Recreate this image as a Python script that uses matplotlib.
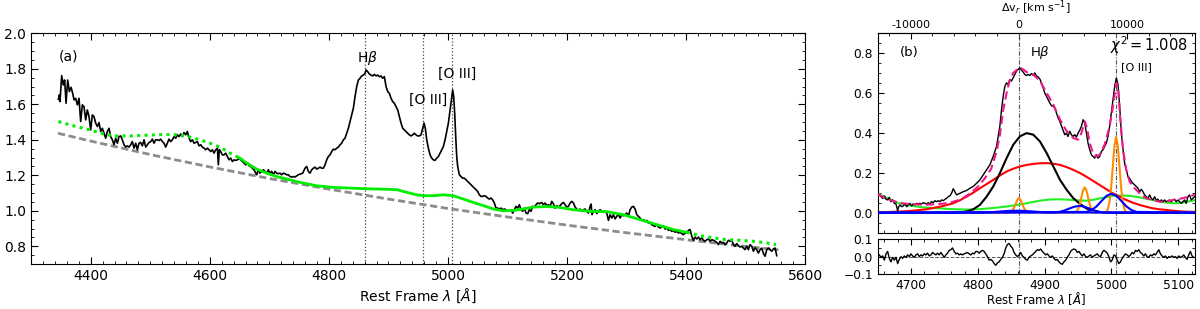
import numpy as np
import matplotlib
matplotlib.use("Agg")
import matplotlib.pyplot as plt
from matplotlib.ticker import AutoMinorLocator, MultipleLocator, FuncFormatter

# ---------------- Panel (a) data ----------------
spec_a_wave1 = [4345.6, 4347.3, 4348.4, 4351.2, 4354.0, 4356.2, 4358.5, 4361.3, 4364.1, 4366.9,
                4369.7, 4371.9, 4374.7, 4377.5, 4380.3, 4383.1, 4385.9, 4388.7, 4391.5, 4394.3,
                4397.1, 4399.9, 4402.7, 4405.5, 4408.3, 4411.1, 4413.9, 4416.7, 4419.5, 4422.3,
                4425.1, 4427.9, 4430.7, 4433.5, 4436.3, 4439.1, 4441.9, 4444.7, 4447.5, 4450.3,
                4453.1, 4455.9, 4458.7, 4461.5, 4464.3, 4467.1, 4469.9, 4472.7, 4475.5, 4478.3,
                4481.1, 4483.9, 4486.7, 4489.5, 4492.3, 4495.1, 4497.9, 4500.7, 4503.5, 4506.3,
                4509.1, 4511.9, 4514.7, 4517.5, 4520.3, 4523.1, 4525.9, 4528.7, 4531.5, 4534.3,
                4537.1, 4539.9, 4542.7, 4545.5, 4548.3, 4551.1, 4553.9, 4556.7, 4559.5, 4562.3,
                4565.1, 4567.9, 4570.7, 4573.5, 4576.3, 4579.1, 4581.9, 4584.7, 4587.5, 4590.3,
                4593.1, 4595.9, 4598.7, 4601.5, 4604.3, 4607.1, 4609.9, 4612.7, 4614.3, 4616.0,
                4618.3, 4621.1, 4623.9, 4626.7, 4629.5, 4632.3, 4635.1, 4637.9, 4640.7, 4643.5,
                4646.3, 4649.1, 4651.9, 4654.7, 4657.5, 4660.3, 4663.1, 4665.9, 4668.7, 4671.5,
                4674.3, 4677.1, 4678.7, 4681.5, 4684.3, 4687.1, 4689.9, 4692.7, 4695.5, 4698.3,
                4701.1, 4703.9, 4706.7, 4709.5, 4712.3, 4715.1, 4717.9, 4720.7, 4723.5, 4726.3,
                4729.1, 4731.9, 4734.7, 4737.5, 4740.3, 4743.1, 4745.9, 4748.7]
spec_a_flux1 = [1.628, 1.653, 1.615, 1.762, 1.709, 1.737, 1.606, 1.737, 1.672, 1.696,
                1.662, 1.625, 1.634, 1.597, 1.634, 1.503, 1.597, 1.587, 1.512, 1.568,
                1.531, 1.456, 1.540, 1.531, 1.494, 1.475, 1.497, 1.447, 1.465, 1.437,
                1.409, 1.447, 1.465, 1.418, 1.400, 1.372, 1.409, 1.381, 1.418, 1.422,
                1.400, 1.372, 1.359, 1.366, 1.359, 1.372, 1.390, 1.353, 1.381, 1.344,
                1.381, 1.385, 1.366, 1.400, 1.359, 1.372, 1.385, 1.390, 1.404, 1.381,
                1.400, 1.400, 1.396, 1.404, 1.390, 1.381, 1.359, 1.381, 1.404, 1.390,
                1.400, 1.418, 1.409, 1.428, 1.418, 1.433, 1.418, 1.441, 1.428, 1.447,
                1.409, 1.390, 1.400, 1.381, 1.385, 1.390, 1.366, 1.372, 1.359, 1.353,
                1.344, 1.353, 1.344, 1.334, 1.344, 1.325, 1.344, 1.353, 1.259, 1.344,
                1.334, 1.315, 1.315, 1.325, 1.306, 1.287, 1.297, 1.278, 1.287, 1.284,
                1.287, 1.297, 1.287, 1.278, 1.269, 1.259, 1.269, 1.254, 1.250, 1.240,
                1.231, 1.212, 1.203, 1.231, 1.212, 1.222, 1.231, 1.222, 1.212, 1.231,
                1.212, 1.222, 1.203, 1.222, 1.212, 1.209, 1.212, 1.203, 1.212, 1.209,
                1.203, 1.203, 1.193, 1.190, 1.193, 1.190, 1.197, 1.203]
spec_a_wave2 = [4756.0, 4759.9, 4762.7, 4765.5, 4768.3, 4771.1, 4773.9, 4776.7, 4779.5, 4782.3,
                4785.1, 4787.9, 4790.7, 4793.5, 4796.3, 4799.1, 4801.9, 4804.7, 4807.5, 4810.3,
                4813.1, 4815.9, 4818.7, 4821.5, 4824.3, 4827.1, 4829.9, 4832.7, 4835.5, 4838.3,
                4841.1, 4843.9, 4846.7, 4849.5, 4852.3, 4855.1, 4857.9, 4860.7, 4862.4, 4865.2,
                4868.0, 4870.8, 4873.6, 4876.4, 4879.2, 4882.0, 4884.8, 4887.6, 4890.4, 4893.2,
                4896.0, 4898.8, 4901.6, 4904.4, 4907.2, 4910.0, 4912.8, 4915.6, 4918.4, 4921.2,
                4924.0, 4926.7, 4929.5, 4932.3, 4935.1, 4937.9, 4940.7, 4943.5, 4946.3, 4949.1,
                4951.9, 4954.7, 4957.5, 4959.8, 4962.0, 4964.3, 4967.1, 4969.9, 4972.7, 4975.5,
                4978.3, 4981.1, 4983.9, 4986.7, 4989.5, 4992.3, 4995.1, 4997.9, 5000.7, 5003.5,
                5006.3, 5007.9, 5009.6, 5011.3, 5013.0, 5014.7, 5016.3, 5019.1, 5021.9, 5024.7,
                5027.5, 5030.3, 5033.1, 5035.9, 5038.7, 5041.5, 5044.3, 5047.1, 5049.9, 5052.7,
                5055.5, 5058.3, 5061.1, 5063.9, 5066.7, 5069.5, 5072.3, 5075.1, 5077.9, 5080.7,
                5083.5, 5086.3, 5089.1, 5091.9, 5094.7, 5097.5, 5100.3, 5103.1, 5105.9, 5108.7,
                5111.5, 5114.3, 5117.1, 5119.9, 5122.7, 5125.5, 5128.3, 5131.1, 5133.9, 5136.7,
                5139.5, 5142.3, 5145.1, 5147.9, 5150.7, 5153.5]
spec_a_flux2 = [1.212, 1.240, 1.250, 1.222, 1.212, 1.231, 1.240, 1.246, 1.235, 1.240,
                1.246, 1.240, 1.240, 1.259, 1.287, 1.306, 1.315, 1.334, 1.347, 1.344,
                1.353, 1.359, 1.372, 1.381, 1.400, 1.409, 1.437, 1.465, 1.503, 1.540,
                1.578, 1.644, 1.700, 1.737, 1.747, 1.760, 1.765, 1.775, 1.794, 1.784,
                1.771, 1.765, 1.760, 1.769, 1.760, 1.765, 1.756, 1.760, 1.747, 1.756,
                1.700, 1.672, 1.662, 1.634, 1.615, 1.606, 1.587, 1.568, 1.531, 1.494,
                1.465, 1.456, 1.447, 1.437, 1.428, 1.422, 1.428, 1.437, 1.428, 1.422,
                1.422, 1.428, 1.465, 1.494, 1.465, 1.400, 1.353, 1.315, 1.297, 1.287,
                1.284, 1.297, 1.306, 1.325, 1.344, 1.362, 1.400, 1.447, 1.494, 1.568,
                1.644, 1.681, 1.644, 1.550, 1.418, 1.306, 1.250, 1.203, 1.193, 1.184,
                1.184, 1.175, 1.165, 1.156, 1.147, 1.137, 1.128, 1.119, 1.109, 1.090,
                1.081, 1.081, 1.085, 1.081, 1.072, 1.066, 1.072, 1.062, 1.044, 1.015,
                1.015, 1.010, 1.015, 1.006, 1.010, 1.006, 0.997, 1.002, 1.006, 0.987,
                1.006, 1.025, 1.015, 1.034, 1.006, 0.997, 1.015, 0.987, 0.984, 1.006,
                0.997, 1.025, 1.021, 1.034, 1.044, 1.040]
spec_a_wave3 = [5157.5, 5160.3, 5163.1, 5165.9, 5168.7, 5171.5, 5174.3, 5177.1, 5179.9, 5182.7,
                5185.5, 5188.3, 5191.1, 5193.9, 5196.7, 5199.5, 5202.3, 5205.1, 5207.9, 5210.7,
                5213.5, 5216.3, 5219.1, 5221.9, 5224.7, 5227.5, 5230.3, 5233.1, 5235.9, 5238.7,
                5240.4, 5242.0, 5244.3, 5247.1, 5249.9, 5252.7, 5255.5, 5258.3, 5261.1, 5263.9,
                5266.7, 5269.5, 5272.3, 5275.1, 5277.9, 5280.7, 5283.5, 5286.3, 5289.1, 5291.9,
                5294.7, 5297.5, 5300.3, 5303.1, 5305.9, 5308.7, 5311.5, 5314.3, 5317.1, 5319.9,
                5322.7, 5325.5, 5328.3, 5331.1, 5333.9, 5336.7, 5339.5, 5342.3, 5345.1, 5347.9,
                5350.7, 5353.5, 5356.3, 5359.1, 5361.9, 5364.7, 5367.5, 5370.3, 5373.1, 5375.9,
                5378.7, 5381.5, 5384.3, 5387.1, 5389.9, 5392.7, 5395.5, 5398.3, 5401.1, 5403.9,
                5406.7, 5409.5, 5412.3, 5415.1, 5417.9, 5420.7, 5423.5, 5426.3, 5429.1, 5431.9,
                5434.7, 5437.5, 5440.3, 5443.1, 5445.9, 5448.7, 5451.5, 5454.3, 5457.1, 5459.9,
                5462.7, 5465.5, 5468.3, 5471.1, 5473.9, 5476.7, 5479.5, 5482.2, 5485.0, 5487.8,
                5490.6, 5493.4, 5496.2, 5499.0, 5501.8, 5504.6, 5507.4, 5510.2, 5513.0, 5515.8,
                5518.6, 5521.4, 5524.2, 5527.0, 5529.8, 5532.6, 5535.4, 5538.2, 5541.0, 5543.8,
                5546.6, 5549.4, 5551.1, 5552.2]
spec_a_flux3 = [1.047, 1.034, 1.044, 1.029, 1.034, 1.025, 1.053, 1.040, 1.015, 1.029,
                1.021, 1.029, 1.040, 1.047, 1.034, 1.021, 1.025, 1.044, 1.053, 1.044,
                1.021, 1.010, 1.002, 1.010, 0.997, 1.006, 1.010, 0.997, 0.987, 1.025,
                1.038, 0.978, 0.997, 1.006, 0.984, 0.997, 1.006, 0.997, 0.991, 0.997,
                0.987, 0.946, 0.978, 0.959, 0.978, 0.954, 0.969, 0.978, 0.959, 0.978,
                0.972, 0.978, 0.987, 0.969, 1.006, 1.021, 1.025, 1.010, 0.978, 0.969,
                0.959, 0.946, 0.950, 0.940, 0.946, 0.931, 0.931, 0.922, 0.916, 0.912,
                0.922, 0.909, 0.903, 0.909, 0.916, 0.897, 0.903, 0.890, 0.894, 0.884,
                0.890, 0.879, 0.884, 0.875, 0.879, 0.871, 0.865, 0.875, 0.875, 0.890,
                0.894, 0.856, 0.834, 0.852, 0.841, 0.852, 0.837, 0.847, 0.834, 0.828,
                0.837, 0.841, 0.828, 0.837, 0.834, 0.828, 0.822, 0.809, 0.828, 0.819,
                0.822, 0.809, 0.819, 0.834, 0.828, 0.834, 0.809, 0.800, 0.815, 0.804,
                0.796, 0.800, 0.790, 0.781, 0.800, 0.781, 0.809, 0.800, 0.772, 0.791,
                0.781, 0.762, 0.781, 0.790, 0.759, 0.744, 0.781, 0.790, 0.781, 0.772,
                0.785, 0.790, 0.762, 0.747]

powerlaw_wave = [4345, 4400, 4500, 4600, 4700, 4800, 4900, 5000, 5100, 5200, 5300, 5400, 5500, 5555]
powerlaw_flux = [1.437, 1.393, 1.317, 1.247, 1.182, 1.122, 1.066, 1.013, 0.965, 0.919, 0.876, 0.837, 0.799, 0.780]

cont_wave = [4345.6, 4370.8, 4398.8, 4426.8, 4443.6, 4466.0, 4494.0, 4522.0, 4550.0, 4566.8,
             4583.5, 4600.4, 4617.1, 4634.0, 4650.0, 4662.0, 4678.7, 4695.5, 4712.3, 4729.0,
             4751.5, 4779.5, 4807.5, 4835.5, 4863.5, 4891.5, 4913.9, 4930.7, 4947.5, 4959.8,
             4975.5, 4992.3, 5009.1, 5025.9, 5042.6, 5059.4, 5076.2, 5093.0, 5109.8, 5126.6,
             5143.4, 5165.8, 5185.0, 5210.7, 5238.7, 5266.7, 5294.7, 5322.7, 5350.7, 5378.7,
             5401.0, 5423.5, 5445.8, 5468.3, 5490.6, 5513.0, 5535.4, 5551.0]
cont_flux = [1.503, 1.479, 1.456, 1.428, 1.422, 1.422, 1.426, 1.430, 1.428, 1.415,
             1.400, 1.381, 1.359, 1.325, 1.298, 1.269, 1.235, 1.212, 1.193, 1.179,
             1.160, 1.141, 1.132, 1.128, 1.124, 1.122, 1.119, 1.104, 1.090, 1.085,
             1.085, 1.090, 1.085, 1.066, 1.047, 1.029, 1.010, 1.000, 1.002, 1.010,
             1.021, 1.024, 1.020, 1.006, 0.997, 0.995, 0.978, 0.950, 0.922, 0.894,
             0.879, 0.860, 0.847, 0.837, 0.834, 0.828, 0.819, 0.809]
fit_window = [4650.0, 5401.0]

line_waves = [4861.3, 4958.9, 5006.8]
line_labels = [r"H$\beta$", "[O III]", "[O III]"]
label_x = [4864, 4966, 5016]
label_y = [1.86, 1.625, 1.77]

# ---------------- Panel (b) data ----------------
spec_b_wave = [4652.5, 4655.0, 4657.5, 4660.0, 4662.5, 4665.0, 4667.4, 4669.9, 4672.4, 4674.9,
               4677.4, 4679.9, 4681.4, 4683.4, 4685.9, 4688.4, 4690.9, 4693.4, 4695.9, 4698.3,
               4700.8, 4703.3, 4705.8, 4708.3, 4710.8, 4713.3, 4715.8, 4718.3, 4720.8, 4723.3,
               4725.8, 4728.2, 4730.7, 4733.2, 4735.7, 4738.2, 4740.7, 4743.2, 4745.7, 4748.2,
               4750.7, 4753.2, 4755.6, 4758.1, 4760.6,
               4763.1, 4768.1, 4773.1, 4778.1, 4783.1, 4788.0, 4793.0, 4798.0, 4803.0, 4808.0,
               4813.0, 4817.9, 4822.9, 4827.9, 4832.9, 4835.4, 4837.9, 4840.4, 4842.9, 4845.3,
               4847.8, 4850.3, 4852.8, 4855.3, 4857.8, 4860.3, 4862.8, 4865.3, 4867.8, 4870.3,
               4872.7, 4875.2, 4877.7, 4880.2, 4882.7, 4885.2, 4887.7, 4890.2, 4892.7, 4895.2,
               4897.7, 4900.1, 4902.6, 4905.1, 4907.6, 4910.1, 4912.6, 4915.1, 4917.6, 4920.1,
               4922.6, 4925.1, 4927.6, 4930.0, 4932.5, 4935.0, 4937.5, 4940.0, 4942.5, 4945.0,
               4947.5, 4950.0, 4952.5, 4955.0, 4957.5, 4960.0, 4962.4, 4964.9, 4967.4, 4969.9,
               4972.4, 4974.9, 4977.4, 4979.9, 4982.4, 4984.9, 4987.4, 4989.8, 4992.3, 4994.8,
               4997.3, 4999.8, 5002.3, 5004.8, 5007.3, 5009.8, 5012.3, 5014.8, 5017.3, 5019.7,
               5022.2, 5024.7, 5027.2, 5029.7, 5032.2, 5034.7, 5037.2, 5039.7, 5042.2, 5044.7,
               5047.2, 5049.6, 5052.1, 5054.6, 5057.1, 5059.6, 5062.1, 5064.6, 5067.1, 5069.6,
               5072.1, 5074.6, 5077.1, 5079.5, 5082.0, 5084.5, 5087.0, 5089.5, 5092.0, 5094.5,
               5097.0, 5099.5, 5102.0, 5104.5, 5107.0, 5109.4, 5111.9, 5114.4, 5116.9, 5119.4,
               5121.9, 5124.4]
spec_b_flux = [0.089, 0.080, 0.072, 0.084, 0.067, 0.064, 0.077, 0.055, 0.064, 0.047,
               0.044, 0.010, 0.030, 0.039, 0.030, 0.034, 0.044, 0.030, 0.039, 0.047,
               0.034, 0.044, 0.039, 0.047, 0.044, 0.047, 0.044, 0.050, 0.047, 0.044,
               0.050, 0.044, 0.055, 0.050, 0.060, 0.055, 0.060, 0.055, 0.064, 0.060,
               0.067, 0.072, 0.080, 0.084, 0.097,
               0.120, 0.089, 0.097, 0.105, 0.111, 0.122, 0.131, 0.147, 0.164, 0.189,
               0.214, 0.239, 0.281, 0.331, 0.432, 0.515, 0.582, 0.632, 0.649, 0.641,
               0.666, 0.658, 0.674, 0.691, 0.708, 0.716, 0.725, 0.713, 0.703, 0.691,
               0.686, 0.691, 0.686, 0.696, 0.686, 0.699, 0.683, 0.679, 0.669, 0.649,
               0.624, 0.599, 0.582, 0.566, 0.549, 0.535, 0.532, 0.524, 0.499, 0.474,
               0.457, 0.435, 0.412, 0.390, 0.398, 0.381, 0.407, 0.390, 0.381, 0.390,
               0.378, 0.398, 0.412, 0.432, 0.465, 0.449, 0.398, 0.348, 0.315, 0.290,
               0.281, 0.273, 0.290, 0.273, 0.281, 0.306, 0.315, 0.331, 0.348, 0.381,
               0.432, 0.499, 0.566, 0.632, 0.674, 0.641, 0.532, 0.398, 0.315, 0.248,
               0.214, 0.181, 0.172, 0.156, 0.147, 0.139, 0.131, 0.122, 0.105, 0.117,
               0.105, 0.089, 0.080, 0.072, 0.089, 0.072, 0.064, 0.080, 0.064, 0.067,
               0.055, 0.064, 0.055, 0.064, 0.055, 0.059, 0.064, 0.055, 0.064, 0.067,
               0.055, 0.064, 0.055, 0.047, 0.055, 0.064, 0.047, 0.080, 0.089, 0.064,
               0.072, 0.080]

model_wave = [4650, 4660, 4670, 4680, 4690, 4700, 4710, 4720, 4730, 4740, 4750, 4760, 4770, 4780,
              4790, 4800, 4810, 4820, 4828, 4833, 4838, 4843, 4848, 4853, 4858, 4863, 4868, 4873,
              4883, 4893, 4903, 4913, 4923, 4933, 4943, 4950, 4955, 4960, 4963.4, 4967.4, 4972.4,
              4977.4, 4982.4, 4989.8, 4997.3, 5002.3, 5007.3, 5009.8, 5013.3, 5017.3, 5022.2,
              5027.2, 5032.2, 5042.2, 5052.1, 5062.1, 5072.1, 5082.0, 5092.0, 5102.0, 5112.0, 5125.0]
model_flux = [0.093, 0.075, 0.062, 0.052, 0.046, 0.043, 0.041, 0.040, 0.041, 0.043, 0.046, 0.052, 0.062, 0.078,
              0.100, 0.130, 0.170, 0.220, 0.306, 0.390, 0.515, 0.599, 0.666, 0.699, 0.713, 0.725, 0.716, 0.703,
              0.691, 0.658, 0.599, 0.540, 0.465, 0.407, 0.373, 0.365, 0.398, 0.457, 0.423, 0.348, 0.298,
              0.281, 0.290, 0.340, 0.432, 0.532, 0.649, 0.624, 0.465, 0.315, 0.214,
              0.156, 0.131, 0.097, 0.072, 0.064, 0.055, 0.055, 0.064, 0.069, 0.077, 0.090]

feii_wave = [4650, 4660, 4670, 4680, 4690, 4700, 4710, 4720, 4730, 4743,
             4755, 4768, 4780, 4793, 4805, 4818, 4830, 4843, 4855, 4868,
             4880, 4893, 4907, 4922, 4935, 4948, 4962, 4975, 4988, 5002,
             5017, 5030, 5042, 5055, 5067, 5080, 5092, 5102, 5112, 5125]
feii_flux = [0.095, 0.080, 0.064, 0.050, 0.041, 0.035, 0.030, 0.026, 0.024, 0.022,
             0.019, 0.017, 0.016, 0.016, 0.018, 0.022, 0.026, 0.031, 0.037, 0.044,
             0.052, 0.060, 0.066, 0.067, 0.065, 0.062, 0.060, 0.066, 0.075, 0.084,
             0.086, 0.083, 0.077, 0.068, 0.060, 0.052, 0.047, 0.048, 0.054, 0.063]

vbroad_wave = [4650, 4670, 4690, 4703, 4723, 4743, 4753, 4763, 4773, 4783,
               4793, 4803, 4813, 4823, 4833, 4843, 4853, 4863, 4873, 4883,
               4893, 4903, 4913, 4923, 4933, 4943, 4953, 4962, 4972, 4982,
               4992, 5002, 5012, 5022, 5032, 5042, 5052, 5062, 5072, 5082,
               5092, 5102, 5112, 5125]
vbroad_flux = [0.002, 0.004, 0.007, 0.010, 0.017, 0.030, 0.038, 0.047, 0.062, 0.080,
               0.100, 0.122, 0.143, 0.164, 0.186, 0.206, 0.220, 0.231, 0.239, 0.244,
               0.247, 0.248, 0.245, 0.239, 0.228, 0.214, 0.198, 0.181, 0.160, 0.139,
               0.118, 0.097, 0.080, 0.064, 0.050, 0.039, 0.030, 0.022, 0.017, 0.014,
               0.010, 0.007, 0.005, 0.004]

broad_wave = [4650, 4763, 4773, 4783, 4793, 4803, 4813, 4823, 4833, 4843,
              4853, 4863, 4873, 4883, 4893, 4903, 4913, 4923, 4933, 4943,
              4953, 4962, 4972, 4982, 4992, 5002, 5125]
broad_flux = [0.0, 0.000, 0.002, 0.006, 0.017, 0.039, 0.080, 0.131, 0.198, 0.273,
              0.340, 0.382, 0.398, 0.390, 0.356, 0.298, 0.231, 0.164, 0.114, 0.072,
              0.044, 0.022, 0.010, 0.004, 0.001, 0.000, 0.0]

narrow_wave = [4650,
               4846.5, 4849, 4851.5, 4854, 4856.5, 4859, 4861.5, 4864, 4866.5, 4869, 4871.5, 4874, 4876.5,
               4945, 4947.5, 4950, 4952.5, 4955, 4957.5, 4960, 4962.5, 4965, 4967.5, 4970, 4972.5, 4975,
               4992, 4994.5, 4997, 4999.5, 5002, 5004.5, 5007, 5009.5, 5012, 5014.5, 5017, 5019.5, 5022,
               5125]
narrow_flux = [0.0,
               0.001, 0.003, 0.010, 0.024, 0.044, 0.064, 0.073, 0.064, 0.044, 0.024, 0.010, 0.003, 0.001,
               0.001, 0.006, 0.017, 0.041, 0.077, 0.112, 0.127, 0.112, 0.077, 0.041, 0.017, 0.006, 0.001,
               0.004, 0.017, 0.051, 0.123, 0.230, 0.335, 0.380, 0.335, 0.230, 0.123, 0.051, 0.017, 0.004,
               0.0]

blue1_wave = [4650, 4808, 4820.5, 4833, 4845.5, 4858, 4870.5, 4883, 4895.5, 4908, 5125]
blue1_flux = [0.0, 0.001, 0.003, 0.006, 0.009, 0.010, 0.009, 0.006, 0.003, 0.001, 0.0]
blue2_wave = [4650, 4914.5, 4922, 4929.5, 4937, 4944.5, 4952, 4959.5, 4967, 4974.5, 4982, 4989.5, 5125]
blue2_flux = [0.0, 0.001, 0.004, 0.011, 0.021, 0.030, 0.034, 0.030, 0.021, 0.011, 0.004, 0.001, 0.0]
blue3_wave = [4650, 4962.5, 4970, 4977.5, 4985, 4992.5, 5000, 5007.5, 5015, 5022.5, 5030, 5037.5, 5125]
blue3_flux = [0.0, 0.004, 0.013, 0.031, 0.058, 0.084, 0.095, 0.084, 0.058, 0.031, 0.013, 0.004, 0.0]

res_start, res_step = 4652.5, 2.49
res_flux = [0.010, -0.004, 0.004, -0.020, 0.016, 0.030, -0.010, -0.030, -0.004, -0.020,
            -0.004, -0.040, -0.016, 0.000, -0.010, 0.004, -0.004, 0.010, 0.000, 0.016,
            0.004, -0.004, 0.010, 0.016, 0.000, 0.010, 0.004, 0.016, 0.010, 0.020,
            0.004, 0.010, 0.024, 0.016, 0.010, 0.020, 0.010, 0.024, 0.010, -0.004,
            0.010, 0.020, 0.036, 0.040, 0.050, 0.030, 0.016, 0.020, 0.010, 0.016,
            0.010, 0.016, 0.020, 0.024, 0.016, 0.010, 0.020, 0.016, 0.030, 0.030,
            0.020, 0.030, 0.036, 0.030, 0.016, 0.000, -0.020, -0.016, -0.024, -0.040,
            -0.050, -0.036, -0.030, -0.016, -0.004, 0.016, 0.050, 0.070, 0.076, 0.060,
            0.050, 0.024, 0.010, 0.000, 0.010, 0.024, 0.004, -0.004, -0.016, -0.020,
            -0.004, 0.004, 0.010, 0.020, 0.030, 0.040, 0.036, 0.044, 0.030, 0.020,
            0.010, 0.016, 0.004, -0.004, 0.004, -0.010, -0.020, -0.016, -0.030, -0.040,
            -0.044, -0.030, -0.020, -0.004, 0.010, 0.030, 0.040, 0.044, 0.040, 0.024,
            0.030, 0.016, 0.004, 0.016, 0.000, -0.004, 0.004, 0.010, -0.004, 0.004,
            0.010, 0.016, 0.004, 0.000, 0.024, 0.036, 0.030, 0.020, 0.000, -0.030,
            -0.020, 0.010, 0.004, -0.020, -0.040, -0.030, -0.010, 0.004, 0.016, 0.010,
            0.000, 0.010, 0.024, 0.016, 0.036, 0.030, 0.040, 0.024, 0.016, 0.004,
            0.016, 0.000, -0.004, 0.010, 0.004, 0.016, 0.010, 0.024, 0.040, 0.016,
            0.004, -0.004, 0.004, -0.010, 0.000, -0.004, 0.004, -0.004, 0.000, -0.010,
            0.004, -0.004, 0.000, 0.010, -0.004, -0.016, 0.010, 0.030, 0.004, -0.004]

HB0 = 4861.3
C_KMS = 299792.458

# ---------------- Figure ----------------
plt.rcParams['font.family'] = ['DejaVu Sans']
fig = plt.figure(figsize=(12, 3.09), dpi=100)

axa = fig.add_axes([0.026, 0.1456, 0.645, 0.7464])
axb = fig.add_axes([0.7314, 0.2469, 0.2644, 0.6473])
axr = fig.add_axes([0.7314, 0.1133, 0.2644, 0.1123], sharex=axb)

# Panel (a)
for lw_ in line_waves:
    axa.axvline(lw_, color='#444444', ls=':', lw=0.9, zorder=1)
wa = np.concatenate([spec_a_wave1, spec_a_wave2, spec_a_wave3])
fa = np.concatenate([spec_a_flux1, spec_a_flux2, spec_a_flux3])
axa.plot(wa, fa, color='black', lw=1.2, zorder=3)
axa.plot(powerlaw_wave, powerlaw_flux, color='#8c8c8c', lw=2.0, ls=(0, (2.6, 1.3)), zorder=2)
cw = np.array(cont_wave)
cf = np.array(cont_flux)
m_in = (cw >= fit_window[0]) & (cw <= fit_window[1])
m_lo = cw <= fit_window[0]
m_hi = cw >= fit_window[1]
axa.plot(cw[m_in], cf[m_in], color='#00ee00', lw=2.0, zorder=4)
axa.plot(cw[m_lo], cf[m_lo], color='#00ee00', lw=2.2, ls=(0, (1, 1.4)), zorder=4)
axa.plot(cw[m_hi], cf[m_hi], color='#00ee00', lw=2.2, ls=(0, (1, 1.4)), zorder=4)
for t, x, y in zip(line_labels, label_x, label_y):
    axa.text(x, y, t, ha='center', va='center', fontsize=10)
axa.text(0.035, 0.90, "(a)", transform=axa.transAxes, ha='left', va='center', fontsize=10)
axa.set_xlim(4300, 5600)
axa.set_ylim(0.7, 2.0)
axa.xaxis.set_major_locator(MultipleLocator(200))
axa.xaxis.set_minor_locator(MultipleLocator(20))
axa.yaxis.set_major_locator(MultipleLocator(0.2))
axa.yaxis.set_minor_locator(MultipleLocator(0.05))
axa.tick_params(which='both', direction='in', top=True, right=True, labelsize=10)
axa.tick_params(which='major', length=5)
axa.tick_params(which='minor', length=2.5)
axa.set_xlabel(r"Rest Frame $\lambda$ [$\AA$]", fontsize=10, labelpad=3)

# Panel (b)
for lw_ in [HB0, 5006.8]:
    axb.axvline(lw_, color='#555555', ls=(0, (4, 1.5, 1, 1.5)), lw=0.8, zorder=1)
    axr.axvline(lw_, color='#555555', ls=(0, (4, 1.5, 1, 1.5)), lw=0.8, zorder=1)
axb.plot(feii_wave, feii_flux, color='#22ee22', lw=1.5, zorder=2)
axb.plot(vbroad_wave, vbroad_flux, color='red', lw=1.5, zorder=2)
axb.plot(broad_wave, broad_flux, color='black', lw=1.5, zorder=2)
axb.plot(narrow_wave, narrow_flux, color='darkorange', lw=1.5, zorder=2)
for bw, bf in [(blue1_wave, blue1_flux), (blue2_wave, blue2_flux), (blue3_wave, blue3_flux)]:
    axb.plot(bw, bf, color='blue', lw=1.5, zorder=3)
axb.plot(spec_b_wave, spec_b_flux, color='black', lw=1.0, zorder=4)
axb.plot(model_wave, model_flux, color='#f0168c', lw=1.5, ls=(0, (4, 2)), zorder=5)

axb.text(0.07, 0.90, "(b)", transform=axb.transAxes, ha='left', va='center', fontsize=9.5)
axb.text(4893, 0.80, r"H$\beta$", ha='center', va='center', fontsize=9.5)
axb.text(5114, 0.806, r"$\chi^2 = 1.008$", ha='right', va='baseline', fontsize=10.5)
axb.text(5037, 0.73, "[O III]", ha='center', va='center', fontsize=8)

axb.set_xlim(4650, 5125)
axb.set_ylim(-0.1, 0.9)
axb.xaxis.set_major_locator(MultipleLocator(100))
axb.xaxis.set_minor_locator(MultipleLocator(20))
axb.yaxis.set_major_locator(MultipleLocator(0.2))
axb.yaxis.set_minor_locator(MultipleLocator(0.05))
axb.tick_params(which='both', direction='in', right=True, top=False, labelbottom=False, labelsize=8.8)
axb.tick_params(which='major', length=4)
axb.tick_params(which='minor', length=2)

def lam2v(lam):
    return (np.asarray(lam) / HB0 - 1.0) * C_KMS

def v2lam(v):
    return HB0 * (1.0 + np.asarray(v) / C_KMS)

sec = axb.secondary_xaxis('top', functions=(lam2v, v2lam))
sec.xaxis.set_major_locator(MultipleLocator(10000))
sec.xaxis.set_minor_locator(MultipleLocator(2000))
sec.xaxis.set_major_formatter(FuncFormatter(lambda v, p: f"{v:.0f}" if abs(v) < 15000 else ""))
sec.tick_params(which='both', direction='in', labelsize=8, pad=2)
sec.tick_params(which='major', length=4)
sec.tick_params(which='minor', length=2)
fig.text(1036 / 1200, 1 - 8 / 309, r"$\Delta$v$_r$ [km s$^{-1}$]", ha='center', va='center', fontsize=8)

# Residuals
res_wave = res_start + res_step * np.arange(len(res_flux))
axr.axhline(0.0, color='#555555', ls='--', lw=0.7, zorder=1)
axr.plot(res_wave, res_flux, color='black', lw=1.0, zorder=3)
axr.set_ylim(-0.1, 0.1)
axr.yaxis.set_major_locator(MultipleLocator(0.1))
axr.yaxis.set_minor_locator(MultipleLocator(0.05))
axr.tick_params(which='both', direction='in', top=True, right=True, labelsize=8.8)
axr.tick_params(which='major', length=4)
axr.tick_params(which='minor', length=2)
axr.set_xlabel(r"Rest Frame $\lambda$ [$\AA$]", fontsize=8.5)
axr.xaxis.set_label_coords(0.5, -0.47)

fig.savefig("out.png", dpi=100)
